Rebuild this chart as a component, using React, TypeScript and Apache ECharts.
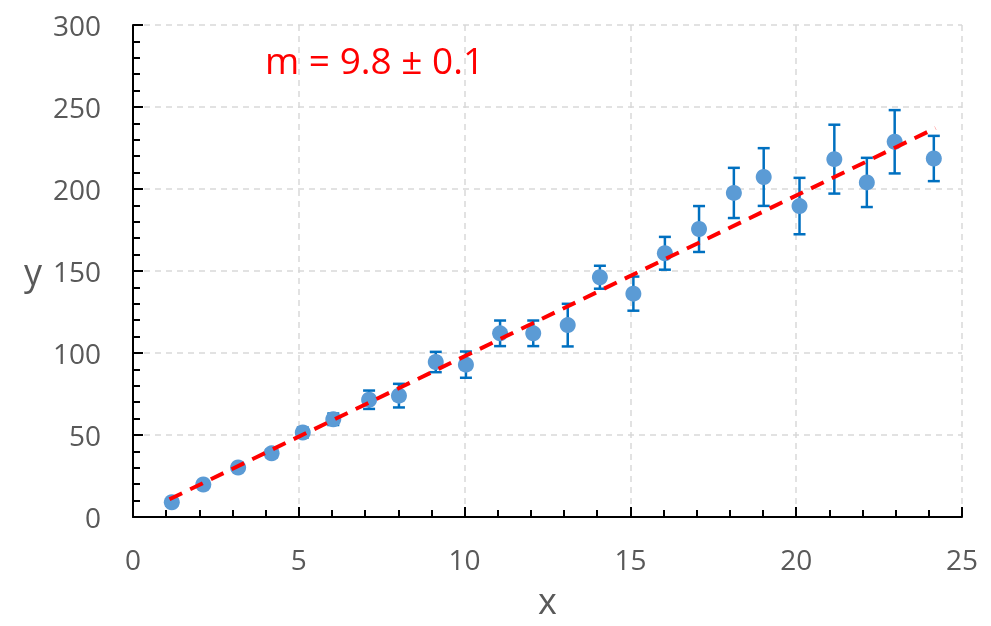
import React, { useEffect, useRef } from "react";
import * as echarts from "echarts";

const xValues = [1.17, 2.12, 3.17, 4.18, 5.12, 6.04, 7.12, 8.02, 9.13, 10.04, 11.07, 12.07, 13.11, 14.08, 15.09, 16.04, 17.07, 18.12, 19.02, 20.1, 21.15, 22.13, 22.97, 24.15];
const yValues = [9, 19.8, 30.2, 38.8, 51.5, 59.6, 71.5, 74, 94.5, 92.9, 112, 112, 117, 146.2, 136.2, 160.8, 175.6, 197.6, 207.3, 189.6, 218.2, 204, 228.8, 218.6];
const yErrors = [1.5, 1.8, 2, 2.5, 3, 3.5, 5.6, 7.2, 6.2, 8, 7.8, 7.8, 13, 7, 10.4, 10, 14, 15.3, 17.6, 17.2, 21, 15, 19.3, 13.8];
const fitX = [1.1, 24.2];
const slope = 9.8;
const intercept = 0;
const fitLabel = "m = 9.8 ± 0.1";
const xTicks = [0, 5, 10, 15, 20, 25];
const yTicks = [0, 50, 100, 150, 200, 250, 300];

const FONT = "'Open Sans', sans-serif";

export default function App() {
  const ref = useRef<HTMLDivElement>(null);
  useEffect(() => {
    if (!ref.current) return;
    const chart = echarts.init(ref.current, undefined, { renderer: "svg" });
    const points = xValues.map((x, i) => [x, yValues[i]]);
    const errData = xValues.map((x, i) => [x, yValues[i] - yErrors[i], yValues[i] + yErrors[i]]);
    const fitData = fitX.map((x) => [x, slope * x + intercept]);
    const axisCommon = {
      axisLine: { show: true, onZero: false, lineStyle: { color: "#000", width: 2 } },
      axisTick: { show: true, inside: true, length: 10, lineStyle: { color: "#000", width: 2 } },
      minorTick: { show: true, splitNumber: 5, length: 7, lineStyle: { color: "#000", width: 2 } },
      splitLine: { show: true, lineStyle: { color: "#D9D9D9", type: [6, 5], width: 1.5 } },
      axisLabel: { color: "#595959", fontSize: 28, fontFamily: FONT },
      nameTextStyle: { color: "#595959", fontSize: 36, fontFamily: FONT },
    };
    chart.setOption({
      animation: false,
      grid: { left: 133, right: 29, top: 25, bottom: 109, containLabel: false, outerBoundsMode: "none" },
      xAxis: {
        type: "value",
        min: xTicks[0],
        max: xTicks[xTicks.length - 1],
        interval: 5,
        name: "x",
        nameLocation: "middle",
        nameGap: 73,
        ...axisCommon,
        nameTextStyle: { ...axisCommon.nameTextStyle, lineHeight: 20 },
        axisLabel: { ...axisCommon.axisLabel, margin: 28 },
      },
      yAxis: {
        type: "value",
        min: yTicks[0],
        max: yTicks[yTicks.length - 1],
        interval: 50,
        name: "y",
        nameLocation: "middle",
        nameGap: 91,
        nameRotate: 0,
        ...axisCommon,
        nameTextStyle: { ...axisCommon.nameTextStyle, padding: [12, 0, 0, 0] },
        axisLabel: { ...axisCommon.axisLabel, margin: 32 },
      },
      graphic: [
        {
          type: "text",
          left: 265,
          top: 41,
          style: { text: fitLabel, fill: "#FF0000", fontSize: 37, fontFamily: FONT },
        },
      ],
      series: [
        {
          type: "custom",
          z: 2,
          data: errData,
          encode: { x: 0, y: [1, 2] },
          renderItem: (params: any, api: any) => {
            const x = api.value(0);
            const top = api.coord([x, api.value(2)]);
            const bot = api.coord([x, api.value(1)]);
            const hw = 6;
            const style = { stroke: "#0070C0", lineWidth: 2.5 };
            return {
              type: "group",
              children: [
                { type: "line", shape: { x1: top[0], y1: top[1], x2: bot[0], y2: bot[1] }, style },
                { type: "line", shape: { x1: top[0] - hw, y1: top[1], x2: top[0] + hw, y2: top[1] }, style },
                { type: "line", shape: { x1: bot[0] - hw, y1: bot[1], x2: bot[0] + hw, y2: bot[1] }, style },
              ],
            };
          },
        },
        {
          type: "scatter",
          z: 3,
          data: points,
          symbol: "circle",
          symbolSize: 16,
          itemStyle: { color: "#5B9BD5", opacity: 1 },
        },
        {
          type: "line",
          z: 4,
          data: fitData,
          showSymbol: false,
          symbol: "none",
          lineStyle: { color: "#FF0000", width: 4, type: [14, 9] },
        },
      ],
    });
    return () => chart.dispose();
  }, []);
  return <div ref={ref} style={{ position: "fixed", left: 0, top: 0, width: 991, height: 626 }} />;
}
